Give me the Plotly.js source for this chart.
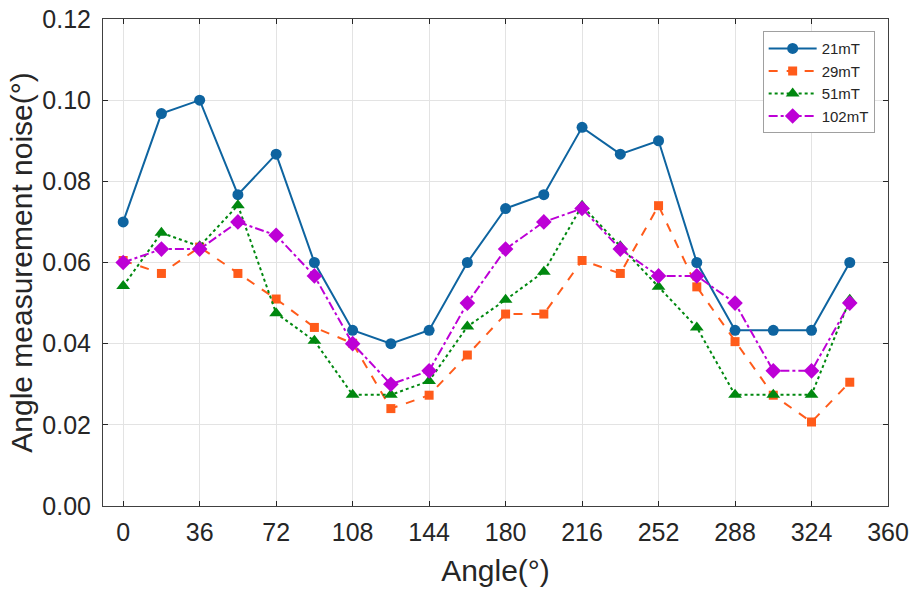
<!DOCTYPE html>
<html>
<head>
<meta charset="utf-8">
<script src="https://cdn.plot.ly/plotly-3.0.1.min.js"></script>
<style>
  html, body { margin: 0; padding: 0; background: #ffffff; }
  #chart { width: 918px; height: 596px; }
</style>
</head>
<body>
<div id="chart"></div>
<script>
const angles = [0, 18, 36, 54, 72, 90, 108, 126, 144, 162, 180, 198, 216, 234, 252, 270, 288, 306, 324, 342];

const noise21 = [0.0700, 0.0967, 0.1000, 0.0767, 0.0867, 0.0600, 0.0433, 0.0400, 0.0433, 0.0600,
  0.0733, 0.0767, 0.0933, 0.0867, 0.0900, 0.0600, 0.0433, 0.0433, 0.0433, 0.0600];
const noise29 = [0.0605, 0.0573, 0.0638, 0.0573, 0.0510, 0.0440, 0.0401, 0.0240, 0.0273, 0.0372,
  0.0473, 0.0473, 0.0605, 0.0573, 0.0740, 0.0540, 0.0405, 0.0273, 0.0207, 0.0305];
const noise51 = [0.0542, 0.0673, 0.0640, 0.0741, 0.0475, 0.0407, 0.0274, 0.0274, 0.0308, 0.0442,
  0.0508, 0.0577, 0.0740, 0.0640, 0.0540, 0.0440, 0.0274, 0.0274, 0.0274, 0.0508];
const noise102 = [0.0600, 0.0633, 0.0633, 0.0700, 0.0667, 0.0567, 0.0400, 0.0300, 0.0333, 0.0500,
  0.0633, 0.0700, 0.0733, 0.0633, 0.0567, 0.0567, 0.0500, 0.0333, 0.0333, 0.0500];

const xTicks = [0, 36, 72, 108, 144, 180, 216, 252, 288, 324, 360];
const yTicks = [0, 0.02, 0.04, 0.06, 0.08, 0.10, 0.12];

const FONT = "Liberation Sans, Arial, sans-serif";
const TEXT = "#262626";

function series(name, y, color, dash, symbol, size) {
  return {
    x: angles,
    y,
    name,
    mode: "lines+markers",
    line: { color, width: 2, dash },
    marker: { color, symbol, size },
  };
}

const traces = [
  series("21mT", noise21, "#0e64a0", "solid", "circle", 11),
  series("29mT", noise29, "#ff5b1a", "dash", "square", 9),
  series("51mT", noise51, "#00880f", "dot", "triangle-up", 12),
  series("102mT", noise102, "#bd00d6", "dashdot", "diamond", 12),
];

const axisCommon = {
  showline: true,
  linecolor: "#404040",
  linewidth: 1,
  mirror: "ticks",
  ticks: "inside",
  ticklen: 5,
  tickcolor: "#262626",
  showgrid: true,
  gridcolor: "#e3e3e3",
  gridwidth: 1,
  zeroline: false,
};

const layout = {
  width: 918,
  height: 596,
  margin: { l: 103, r: 30, t: 19, b: 90 },
  paper_bgcolor: "#ffffff",
  plot_bgcolor: "#ffffff",
  font: { family: FONT, color: TEXT, size: 20 },
  showlegend: true,
  legend: {
    x: 0.983,
    y: 0.975,
    xanchor: "right",
    yanchor: "top",
    bgcolor: "#ffffff",
    bordercolor: "#a0a0a0",
    borderwidth: 1,
    itemwidth: 48,
    font: { family: FONT, size: 15, color: TEXT },
    tracegroupgap: 0,
  },
  xaxis: {
    ...axisCommon,
    range: [-9.5, 360],
    tickvals: xTicks,
    ticktext: xTicks.map(String),
    tickfont: { family: FONT, size: 25, color: TEXT },
    ticklabelstandoff: 4,
    title: {
      text: "Angle(°)",
      font: { family: FONT, size: 30, color: TEXT },
      standoff: 14,
    },
  },
  yaxis: {
    ...axisCommon,
    range: [0, 0.12],
    tickvals: yTicks,
    ticktext: yTicks.map((v) => v.toFixed(2)),
    tickfont: { family: FONT, size: 25, color: TEXT },
    ticklabelstandoff: 6,
    title: {
      text: "Angle measurement noise(°)",
      font: { family: FONT, size: 30, color: TEXT },
      standoff: 0,
    },
  },
};

Plotly.newPlot("chart", traces, layout, { displayModeBar: false, staticPlot: true });
</script>
</body>
</html>
